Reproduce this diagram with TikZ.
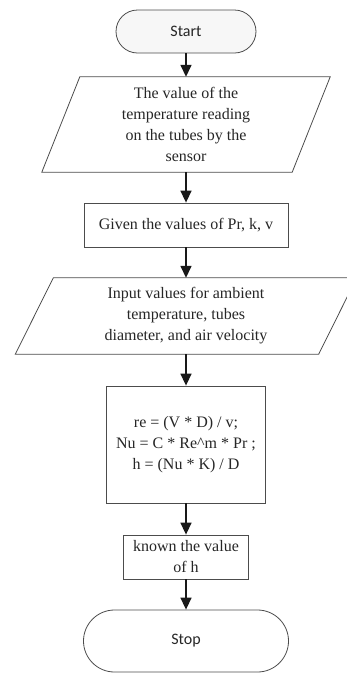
\documentclass[tikz,border=0pt]{standalone}
\usepackage{fontspec}
\setmainfont{Liberation Serif}
\newfontfamily\termfont{Carlito}
\usepackage{tikz}
\usetikzlibrary{arrows.meta,positioning,calc}

\begin{document}
\begin{tikzpicture}[x=1pt,y=-1pt,>={Triangle[width=11pt,length=12pt]},
every node/.style={font=\fontsize{16}{21}\selectfont,text=black!85},
term/.style={draw=black!70,line width=0.8pt,rounded corners=#1,align=center,font=\termfont\fontsize{16}{20}\selectfont},
block/.style={draw=black!70,line width=0.8pt,rectangle,align=center,inner sep=0pt},
io/.style={rectangle,align=center,inner sep=0pt},
slant/.style={draw=black!70,line width=0.8pt,line join=miter},
flow/.style={->,line width=1.5pt,black!90}]
\useasboundingbox (0,0) rectangle (346,673);
\node[term=21.5pt,fill=gray!6,minimum width=140pt,minimum height=43pt] (start) at (186,31.5) {Start};
\node[io,minimum width=250pt,minimum height=95pt] (sensor) at (186,124.5) {The value of the\\temperature reading\\on the tubes by the\\sensor};
\draw[slant] ([xshift=19pt]sensor.north west) -- ([xshift=19pt]sensor.north east) -- ([xshift=-19pt]sensor.south east) -- ([xshift=-19pt]sensor.south west) -- cycle;
\node[block,minimum width=204pt,minimum height=44pt] (given) at (186,225) {Given the values of Pr, k, v};
\node[io,minimum width=303pt,minimum height=76pt] (input) at (186,316) {Input values for ambient\\temperature, tubes\\diameter, and air velocity};
\draw[slant] ([xshift=19pt]input.north west) -- ([xshift=19pt]input.north east) -- ([xshift=-19pt]input.south east) -- ([xshift=-19pt]input.south west) -- cycle;
\node[block,minimum width=159pt,minimum height=117pt] (calc) at (186,444.5) {re = (V * D) / v;\\Nu = C * Re\textasciicircum m * Pr ;\\h = (Nu * K) / D};
\node[block,minimum width=125pt,minimum height=44pt] (known) at (186,557) {known the value\\of h};
\node[term=31pt,minimum width=205pt,minimum height=62pt] (stop) at (186,641) {Stop};
\draw[flow] (start) -- (sensor);
\draw[flow] (sensor) -- (given);
\draw[flow] (given) -- (input);
\draw[flow] (input) -- (calc);
\draw[flow] (calc) -- (known);
\draw[flow] (known) -- (stop);
\end{tikzpicture}
\end{document}
